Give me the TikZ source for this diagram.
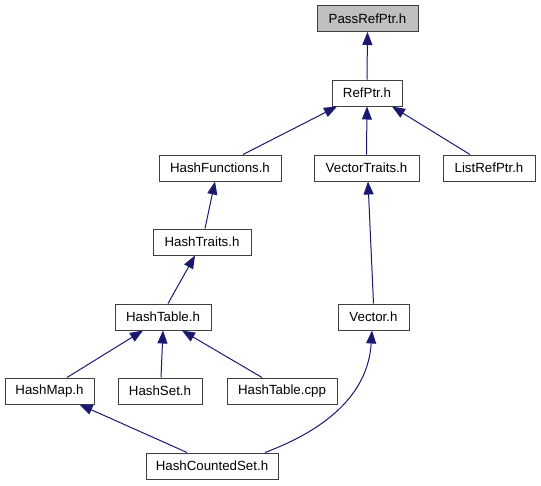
\documentclass[tikz,border=0pt]{standalone}
\usepackage{fontspec}
\setmainfont{Liberation Sans}
\usetikzlibrary{arrows.meta}
\definecolor{edgeblue}{HTML}{191970}
\definecolor{boxline}{HTML}{404040}
\definecolor{hilite}{HTML}{BFBFBF}
\begin{document}
\begin{tikzpicture}[x=1pt,y=-1pt,
  box/.style={draw=boxline,line width=1pt,fill=white,minimum height=26pt,inner sep=0pt,font=\fontsize{13.3}{16}\selectfont},
  edge/.style={draw=edgeblue,line width=1pt,{Triangle[length=13pt,width=10pt,fill=edgeblue]}-}]
\useasboundingbox (0,0) rectangle (541,485);
\node[box,fill=hilite,minimum width=101pt] (pass) at (367.5,18.5) {PassRefPtr.h};
\node[box,minimum width=70pt] (ref) at (367,93) {RefPtr.h};
\node[box,minimum width=122pt] (hf) at (220,168) {HashFunctions.h};
\node[box,minimum width=105pt] (vt) at (366.5,168) {VectorTraits.h};
\node[box,minimum width=92pt] (lrp) at (489,168) {ListRefPtr.h};
\node[box,minimum width=98pt] (ht) at (202,242) {HashTraits.h};
\node[box,minimum width=96pt] (htab) at (163,317) {HashTable.h};
\node[box,minimum width=71pt] (vec) at (373.5,317) {Vector.h};
\node[box,minimum width=89pt] (hm) at (49.5,391) {HashMap.h};
\node[box,minimum width=84pt] (hs) at (160,391) {HashSet.h};
\node[box,minimum width=110pt] (htc) at (282,391) {HashTable.cpp};
\node[box,minimum width=132pt] (hcs) at (212,466) {HashCountedSet.h};

\draw[edge] (pass.south) -- (ref.north);
\draw[edge] ([xshift=-30pt]ref.south) -- ([xshift=23pt]hf.north);
\draw[edge] (ref.south) -- (vt.north);
\draw[edge] ([xshift=25pt]ref.south) -- ([xshift=-19pt]lrp.north);
\draw[edge] ([xshift=-5pt]hf.south) -- ([xshift=3pt]ht.north);
\draw[edge] ([xshift=-7pt]ht.south) -- ([xshift=5pt]htab.north);
\draw[edge] ([xshift=1.5pt]vt.south) -- (vec.north);
\draw[edge] ([xshift=-20pt]htab.south) -- ([xshift=17.5pt]hm.north);
\draw[edge] (htab.south) -- ([xshift=1pt]hs.north);
\draw[edge] ([xshift=19pt]htab.south) -- ([xshift=-20pt]htc.north);
\draw[edge] ([xshift=30pt]hm.south) -- ([xshift=-25pt]hcs.north);
\draw[edge] ([xshift=-1.5pt]vec.south) .. controls (368,395) and (325,430) .. ([xshift=53pt]hcs.north);
\end{tikzpicture}
\end{document}
